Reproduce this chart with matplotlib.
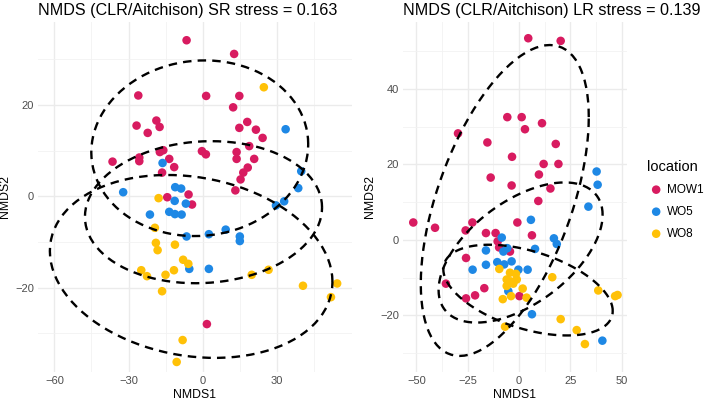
import numpy as np
import matplotlib
matplotlib.use("Agg")
import matplotlib.pyplot as plt
from matplotlib.ticker import FixedLocator

plt.rcParams['font.family'] = ['Liberation Sans', 'DejaVu Sans']

groups = ['MOW1', 'WO5', 'WO8']
colors = {'MOW1': '#D81B60', 'WO5': '#1E88E5', 'WO8': '#FFC107'}

# SR panel (NMDS1, NMDS2)
sr_mow1_x = [-6.6, 12.6, -26.1, 1.3, 14.7, 12.2, -26.8, -22.3, -18.8, -17.5, 14.7, 17.9,
             21.4, 24.1, 18.7, -36.5, -25.7, -25.7, -17.4, -16.0, -13.6, -0.4, 1.2, 13.6,
             13.6, 20.7, 18.1, 16.3, 15.2, 13.1, -16.5, -11.6, -5.8, -4.4, -14.4, 1.6]
sr_mow1_y = [34.2, 31.2, 22.1, 22.0, 22.0, 19.5, 15.5, 13.9, 16.6, 15.2, 15.0, 16.3,
             14.6, 12.8, 11.0, 7.6, 8.5, 7.7, 9.7, 10.1, 8.2, 9.9, 9.2, 9.7,
             8.2, 8.2, 6.3, 5.2, 3.7, 1.3, 5.2, 6.4, 0.4, -1.8, -0.2, -28.0]
sr_wo5_x = [33.4, 39.7, 38.5, -16.3, -32.2, -11.2, -8.8, -11.4, -6.9, 29.5, 32.8,
            -21.4, -13.6, -11.3, -8.6, -6.6, 2.4, 9.2, 14.9, 14.9, -5.5, 2.4]
sr_wo5_y = [14.7, 5.5, 1.8, 7.3, 0.9, 2.0, 1.7, -1.0, -1.6, -2.0, -1.1,
            -4.0, -3.4, -3.9, -4.0, -8.8, -8.3, -7.3, -8.8, -9.8, -15.9, -15.9]
sr_wo8_x = [24.6, -17.9, -19.4, -19.0, -18.3, -11.3, -8.0, -5.9, -24.9, -22.6, -15.1,
            -11.7, -16.5, 19.7, 26.5, 40.4, 54.2, 51.7, -8.2, -10.6]
sr_wo8_y = [23.9, -0.4, -6.9, -10.2, -11.8, -10.6, -13.9, -14.8, -16.2, -17.5, -17.2,
            -16.2, -20.8, -17.2, -16.1, -19.6, -19.1, -22.1, -31.5, -36.3]

# LR panel
lr_mow1_x = [4.5, 20.3, -29.7, -5.7, 1.3, 2.9, 11.2, -15.4, 17.9, -3.4, 12.0, 19.2,
             -13.8, -3.6, 9.7, 15.3, 9.4, -51.5, -40.9, -26.0, -22.7, -0.8, 6.3, -16.1,
             -11.4, -10.4, -9.7, -4.4, -25.8, -35.6, -25.8, -21.4, -16.9, 0.2]
lr_mow1_y = [53.4, 52.7, 28.2, 32.5, 32.5, 29.3, 30.9, 25.8, 25.4, 22.0, 20.1, 20.1,
             16.5, 14.4, 17.3, 13.6, 10.3, 4.6, 3.2, 2.5, 4.6, 4.6, 1.2, 1.8,
             1.8, -0.4, -2.0, -3.1, -4.8, -11.6, -15.5, -14.7, -12.8, -14.9]
lr_wo5_x = [37.8, 38.3, 33.8, 5.8, 17.0, 18.4, 7.8, -8.4, -16.1, -16.1, -22.6, -7.6,
            -5.7, -10.6, -7.2, -3.6, -0.3, 4.2, -5.2, 6.3, 40.6]
lr_wo5_y = [18.1, 14.6, 8.8, 5.3, 0.4, -1.1, -2.4, 0.6, -2.8, -6.6, -7.9, -3.1,
            -2.2, -5.9, -6.5, -5.7, -7.9, -7.9, -13.6, -19.7, -26.7]
lr_wo8_x = [-9.6, -4.4, -6.0, -1.1, -6.0, -2.8, 1.8, 3.7, -3.9, -7.9, -6.8, 16.2,
            38.6, 46.8, 48.0, 20.3, 28.1, 32.1, -4.0, -1.5]
lr_wo8_y = [-7.7, -8.7, -10.5, -10.5, -12.2, -11.6, -12.9, -15.3, -14.9, -15.7, -23.0, -9.9,
            -13.4, -14.9, -14.6, -21.0, -23.9, -27.6, -11.0, -9.0]

sr = {'MOW1': (sr_mow1_x, sr_mow1_y), 'WO5': (sr_wo5_x, sr_wo5_y), 'WO8': (sr_wo8_x, sr_wo8_y)}
lr = {'MOW1': (lr_mow1_x, lr_mow1_y), 'WO5': (lr_wo5_x, lr_wo5_y), 'WO8': (lr_wo8_x, lr_wo8_y)}


def cov_trob(x, nu=5, maxit=25, tol=0.01):
    # robust t covariance, same steps as MASS::cov.trob
    n, p = x.shape
    loc = x.mean(axis=0)
    w = np.ones(n)
    for _ in range(maxit):
        w0 = w
        X = x - loc
        _, d, vt = np.linalg.svd(np.sqrt(w / w.sum())[:, None] * X, full_matrices=False)
        wX = X @ vt.T @ np.diag(1 / d)
        Q = (wX ** 2).sum(axis=1)
        w = (nu + p) / (nu + Q)
        loc = (w[:, None] * x).sum(axis=0) / w.sum()
        if np.all(np.abs(w - w0) < tol):
            break
    cov = (np.sqrt(w)[:, None] * X).T @ (np.sqrt(w)[:, None] * X) / n
    return loc, cov


def t_ellipse(xs, ys, level=0.95, seg=100):
    pts = np.column_stack([xs, ys])
    center, shape = cov_trob(pts)
    dfd = len(pts) - 1
    qf = dfd / 2 * ((1 - level) ** (-2 / dfd) - 1)
    radius = np.sqrt(2 * qf)
    ang = np.linspace(0, 2 * np.pi, seg + 1)
    circ = np.column_stack([np.cos(ang), np.sin(ang)])
    R = np.linalg.cholesky(shape).T
    return center + radius * circ @ R


fig = plt.figure(figsize=(7.09, 4.09), dpi=100)
ax1 = fig.add_axes([38 / 709, 1 - 372 / 409, 314 / 709, 350 / 409])
ax2 = fig.add_axes([403 / 709, 1 - 372 / 409, 224 / 709, 350 / 409])


def style(ax, xlim, ylim, xt, yt, xm, ym, title):
    ax.set_xlim(*xlim)
    ax.set_ylim(*ylim)
    ax.set_xticks(xt)
    ax.set_yticks(yt)
    ax.xaxis.set_minor_locator(FixedLocator(xm))
    ax.yaxis.set_minor_locator(FixedLocator(ym))
    ax.grid(True, which='major', color='#EBEBEB', linewidth=1.0)
    ax.grid(True, which='minor', color='#F2F2F2', linewidth=0.6)
    ax.set_axisbelow(True)
    for s in ax.spines.values():
        s.set_visible(False)
    ax.tick_params(which='both', length=0, labelsize=8, labelcolor='#4D4D4D', pad=3)
    ax.set_xlabel('NMDS1', fontsize=8.8, labelpad=2)
    ax.set_ylabel('NMDS2', fontsize=8.8, labelpad=3)
    ax.set_title(title, loc='left', fontsize=11.6, pad=5)


for ax, data in [(ax1, sr), (ax2, lr)]:
    for g in groups:
        xs, ys = data[g]
        ax.scatter(xs, ys, s=38, color=colors[g], edgecolors='none', zorder=3, label=g)
    for g in groups:
        xs, ys = data[g]
        e = t_ellipse(xs, ys)
        ax.plot(e[:, 0], e[:, 1], color='black', linewidth=1.7, linestyle=(0, (3.6, 2.6)), zorder=4)

style(ax1, (-66.6, 60.2), (-38.5, 38.2), [-60, -30, 0, 30], [-20, 0, 20],
      [-45, -15, 15, 45], [-30, -10, 10, 30], 'NMDS (CLR/Aitchison) SR stress = 0.163')
style(ax2, (-56.5, 52.6), (-35.0, 57.7), [-50, -25, 0, 25, 50], [-20, 0, 20, 40],
      [-37.5, -12.5, 12.5, 37.5], [-30, -10, 10, 30, 50], 'NMDS (CLR/Aitchison) LR stress = 0.139')

leg = ax2.legend(title='location', loc='upper left', bbox_to_anchor=(1.067, 0.62), frameon=False,
                 fontsize=8.5, title_fontsize=10.5, handlelength=1.6, handletextpad=0.15,
                 labelspacing=0.85, borderaxespad=0, alignment='left')

fig.savefig('out.png', dpi=100)
